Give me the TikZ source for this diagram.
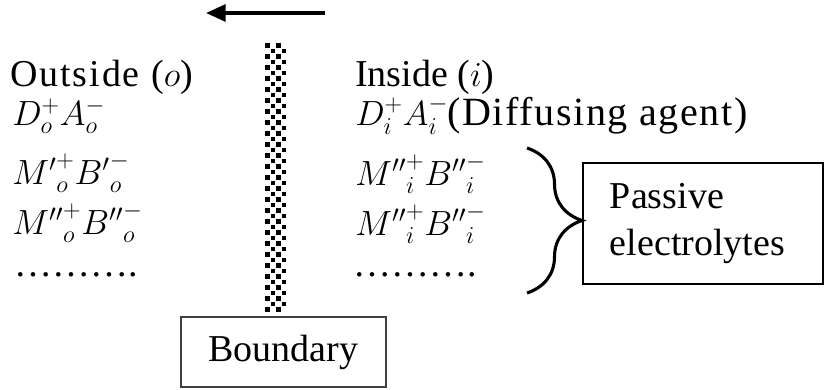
\documentclass[tikz,border=0pt]{standalone}
\usepackage{amsmath}
\usepackage{fontspec}
\setmainfont{Liberation Serif}
\usepackage{tikz}
\usetikzlibrary{arrows.meta, positioning, decorations.pathreplacing}
\tikzset{
	species/.style  ={anchor=base west, inner sep=0pt},
	widetext/.style ={font=\fontsize{28.5}{33}\selectfont\addfontfeature{LetterSpace=4}},
	tagbox/.style   ={rectangle, draw=black!75, line width=1pt, minimum width=5.125cm, minimum height=1.75cm, align=center},
	groupbox/.style ={rectangle, draw=black, line width=2pt, text width=4.65cm, inner xsep=0.675cm, minimum height=3.025cm, align=left},
	fluxarrow/.style={-{Triangle[length=14pt, width=12pt]}, line width=2.5pt},
	grpbrace/.style ={decorate, decoration={brace, amplitude=1.375cm}, line width=2.2pt},
	cell/.style     ={fill=black},
}

\begin{document}
\begin{tikzpicture}[x=0.025cm, y=-0.025cm, font=\fontsize{27}{33}\selectfont]
	\useasboundingbox (0,0) rectangle (826,389);
	% flux direction
	\coordinate (fluxFrom) at (325,13);
	\coordinate (fluxTo) at (206,13);
	\draw[fluxarrow] (fluxFrom) -- (fluxTo);
	% membrane strip
	\foreach \j in {0,...,48}
		\foreach \i in {0,...,3}{
			\pgfmathtruncatemacro\odd{mod(\i+\j,2)}
			\ifnum\odd=0 \fill[cell] (265+5.5*\i,43+5.5*\j) rectangle ++(4.5,4.5); \fi
		}
	\node[tagbox] (bnd) at (283.5,352) {Boundary};
	% outside
	\node[species, font=\fontsize{27}{33}\selectfont\addfontfeature{LetterSpace=5}] (outside) at (10,86) {Outside ($o$)};
	\node[species] (dOut) at (12,125) {$D_o^+A_o^-$};
	\node[species] (mOutA) at (12,184) {${M'}^+_o{B'}^-_o$};
	\node[species] (mOutB) at (12,234) {${M''}^+_o{B''}^-_o$};
	\node[species] (dotsOut) at (14,276) {……….};
	% inside
	\node[species] (inside) at (355,86) {Inside ($i$)};
	\node[species] (dIn) at (355,125) {$D_i^+A_i^-$};
	\node[species, widetext] (agent) at (447,125) {(Diffusing agent)};
	\node[species] (mInA) at (355,185) {${M''}^+_i{B''}^-_i$};
	\node[species] (mInB) at (355,235) {${M''}^+_i{B''}^-_i$};
	\node[species] (dotsIn) at (353,276) {……….};
	% passive group
	\coordinate (brTop) at (527,148);
	\coordinate (brBot) at (527,293);
	\draw[grpbrace] (brTop) -- (brBot);
	\node[groupbox] (passive) at (703,223.5) {Passive\\electrolytes};
\end{tikzpicture}
\end{document}
